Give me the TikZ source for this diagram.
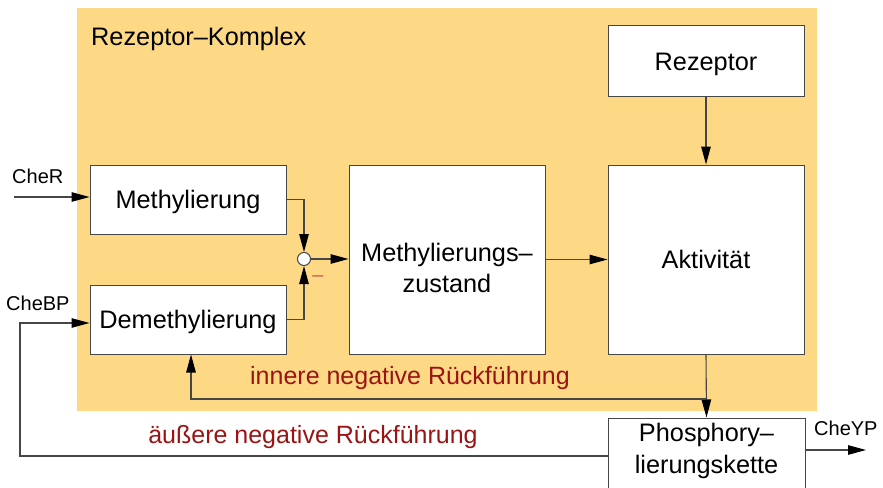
\documentclass[tikz,border=0pt]{standalone}
\usepackage{fontspec}
\setmainfont{Liberation Sans}
\usetikzlibrary{arrows.meta}
\definecolor{komplex}{RGB}{253,217,134}
\definecolor{fbred}{RGB}{155,20,20}
\definecolor{minusred}{RGB}{200,90,80}
\definecolor{linegray}{RGB}{70,70,70}
\tikzset{
  blockbox/.style={draw=linegray, line width=1pt, fill=white, minimum width=196pt, align=center, inner sep=0pt, font=\fontsize{25.3}{31.5}\selectfont},
  onel/.style={text height=18.2pt, text depth=0pt},
  twol/.style={align=center, inner sep=0pt, font=\fontsize{25.3}{31.5}\selectfont},
  conn/.style={draw=linegray, line width=1.1pt},
  arr/.style={conn, -{Triangle[length=18pt,width=9.5pt,black]}},
  sig/.style={font=\fontsize{20}{24}\selectfont, inner sep=0pt},
  fb/.style={text=fbred, font=\fontsize{25}{29}\selectfont, inner sep=0pt},
}
\begin{document}
\begin{tikzpicture}[x=1pt,y=-1pt]
\useasboundingbox (0,0) rectangle (883,487);
\fill[komplex] (77,8) rectangle (817,411);
\node[anchor=base west, inner sep=0pt, font=\fontsize{25.3}{30}\selectfont] (title) at (91,46) {Rezeptor–Komplex};

\node[blockbox, onel, minimum height=70pt] (rez) at (706,61) {Rezeptor};
\node[blockbox, onel, minimum height=189pt] (akt) at (706,259.5) {Aktivität};
\node[blockbox, minimum height=189pt] (mz) at (447,259.5) {};
\node[twol] (mztext) at (447,268) {Methylierungs–\\zustand};
\node[blockbox, onel, minimum height=69pt] (meth) at (188,199.5) {Methylierung};
\node[blockbox, onel, minimum height=69pt] (demeth) at (188,319.5) {Demethylierung};
\node[blockbox, minimum height=76pt, minimum width=197pt] (phos) at (706.5,456) {};
\node[twol] (phostext) at (706.5,451) {Phosphory–\\lierungskette};

\node[circle, draw=linegray, line width=1pt, fill=white, minimum size=13pt, inner sep=0pt] (sum) at (304,259) {};
\node[text=minusred, font=\fontsize{20}{24}\selectfont, inner sep=0pt] (minus) at (318,279) {–};

% inputs
\coordinate (cherin) at (14,197);
\node[sig, anchor=base west] (cher) at (12,183) {CheR};
\node[sig, anchor=base west] (chebp) at (6,310) {CheBP};
\node[sig, anchor=base west] (cheyp) at (814,435) {CheYP};
\coordinate (cheyout) at (866,450);

\draw[arr] (cherin) -- (meth.west |- cherin);
\draw[arr] (meth.east) -| (sum.north);
\draw[arr] (demeth.east) -| (sum.south);
\draw[arr] (sum.east) -- (mz.west |- sum.east);
\draw[arr] (mz.east) -- (akt.west |- mz.east);
\draw[arr] (rez.south) -- (akt.north);
\draw[arr] (akt.south) -- (phos.north);
\draw[arr] (phos.east |- cheyout) -- (cheyout);

% inner feedback
\coordinate (innerj) at (706,399);
\coordinate (innerl) at (191,399);
\draw[arr] (innerj) -- (innerl) -- (innerl |- demeth.south);
\node[fb] (innerlabel) at (410,378) {innere negative Rückführung};

% outer feedback
\coordinate (outerbl) at (20,456);
\coordinate (outertl) at (20,323);
\draw[arr] (phos.west) -- (outerbl) -- (outertl) -- (demeth.west |- outertl);
\node[fb] (outerlabel) at (313,437) {äußere negative Rückführung};
\end{tikzpicture}
\end{document}
